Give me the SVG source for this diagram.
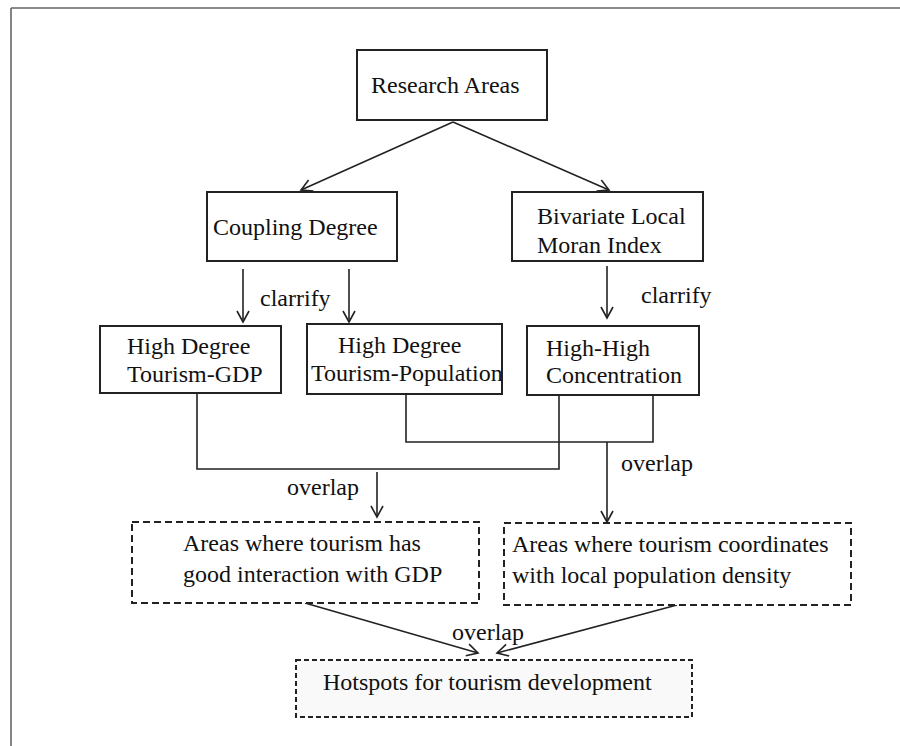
<svg xmlns="http://www.w3.org/2000/svg" width="900" height="746" viewBox="0 0 900 746">
<style>
text{font-family:"Liberation Serif","Times New Roman",serif;font-size:24px;fill:#111}
.box{fill:#fff;stroke:#222;stroke-width:2}
.dbox{fill:#fff;stroke:#222;stroke-width:2;stroke-dasharray:7 4}
.hbox{fill:#f9f9f9;stroke:#222;stroke-width:2;stroke-dasharray:5 3}
.ln{fill:none;stroke:#222;stroke-width:1.6}
.ar{fill:none;stroke:#222;stroke-width:1.6;marker-end:url(#ah)}
</style>
<defs>
<marker id="ah" markerUnits="userSpaceOnUse" markerWidth="14" markerHeight="14" viewBox="0 0 14 14" refX="12" refY="7" orient="auto">
<path d="M1,1 L12,7 L1,13" fill="none" stroke="#222" stroke-width="1.6"/>
</marker>
</defs>
<rect width="900" height="746" fill="#fff"/>
<g id="frame">
<path d="M11,8 H900 M11,8 V746" fill="none" stroke="#666" stroke-width="1.6"/>
</g>
<g id="connectors">
<path class="ar" d="M453,122 L301,190"/>
<path class="ar" d="M453,122 L609,190"/>
<path class="ar" d="M243,269 V322"/>
<path class="ar" d="M349,269 V322"/>
<path class="ar" d="M607,266 V318"/>
<path class="ln" d="M197,393 V469 H559 V395"/>
<path class="ln" d="M406,394 V442 H653 V395"/>
<path class="ar" d="M377,472 V517"/>
<path class="ar" d="M607,442 V522"/>
<path class="ar" d="M305,603 L478,653"/>
<path class="ar" d="M677,605 L497,653"/>
<text x="260" y="306">clarrify</text>
<text x="641" y="303">clarrify</text>
<text x="287" y="495">overlap</text>
<text x="621" y="471">overlap</text>
<text x="452" y="640">overlap</text>
</g>
<g id="research-areas">
<rect class="box" x="357" y="50" width="190" height="70"/>
<text x="371" y="93">Research Areas</text>
</g>
<g id="coupling-degree">
<rect class="box" x="207" y="192" width="190" height="69"/>
<text x="213" y="235">Coupling Degree</text>
</g>
<g id="bivariate-moran">
<rect class="box" x="512" y="192" width="191" height="69"/>
<text x="537" y="224">Bivariate Local</text>
<text x="537" y="253">Moran Index</text>
</g>
<g id="high-degree-gdp">
<rect class="box" x="100" y="326" width="181" height="67"/>
<text x="127" y="354">High Degree</text>
<text x="127" y="382">Tourism-GDP</text>
</g>
<g id="high-degree-pop">
<rect class="box" x="307" y="324" width="195" height="70"/>
<text x="338" y="353">High Degree</text>
<text x="311" y="381">Tourism-Population</text>
</g>
<g id="high-high">
<rect class="box" x="527" y="326" width="172" height="69"/>
<text x="546" y="356">High-High</text>
<text x="546" y="383">Concentration</text>
</g>
<g id="areas-gdp">
<rect class="dbox" x="132" y="522" width="347" height="81"/>
<text x="183" y="551">Areas where tourism has</text>
<text x="183" y="582">good interaction with GDP</text>
</g>
<g id="areas-pop">
<rect class="dbox" x="504" y="523" width="347" height="82"/>
<text x="512" y="552">Areas where tourism coordinates</text>
<text x="512" y="583">with local population density</text>
</g>
<g id="hotspots">
<rect class="hbox" x="296" y="660" width="396" height="57"/>
<text x="323" y="690">Hotspots for tourism development</text>
</g>
</svg>
